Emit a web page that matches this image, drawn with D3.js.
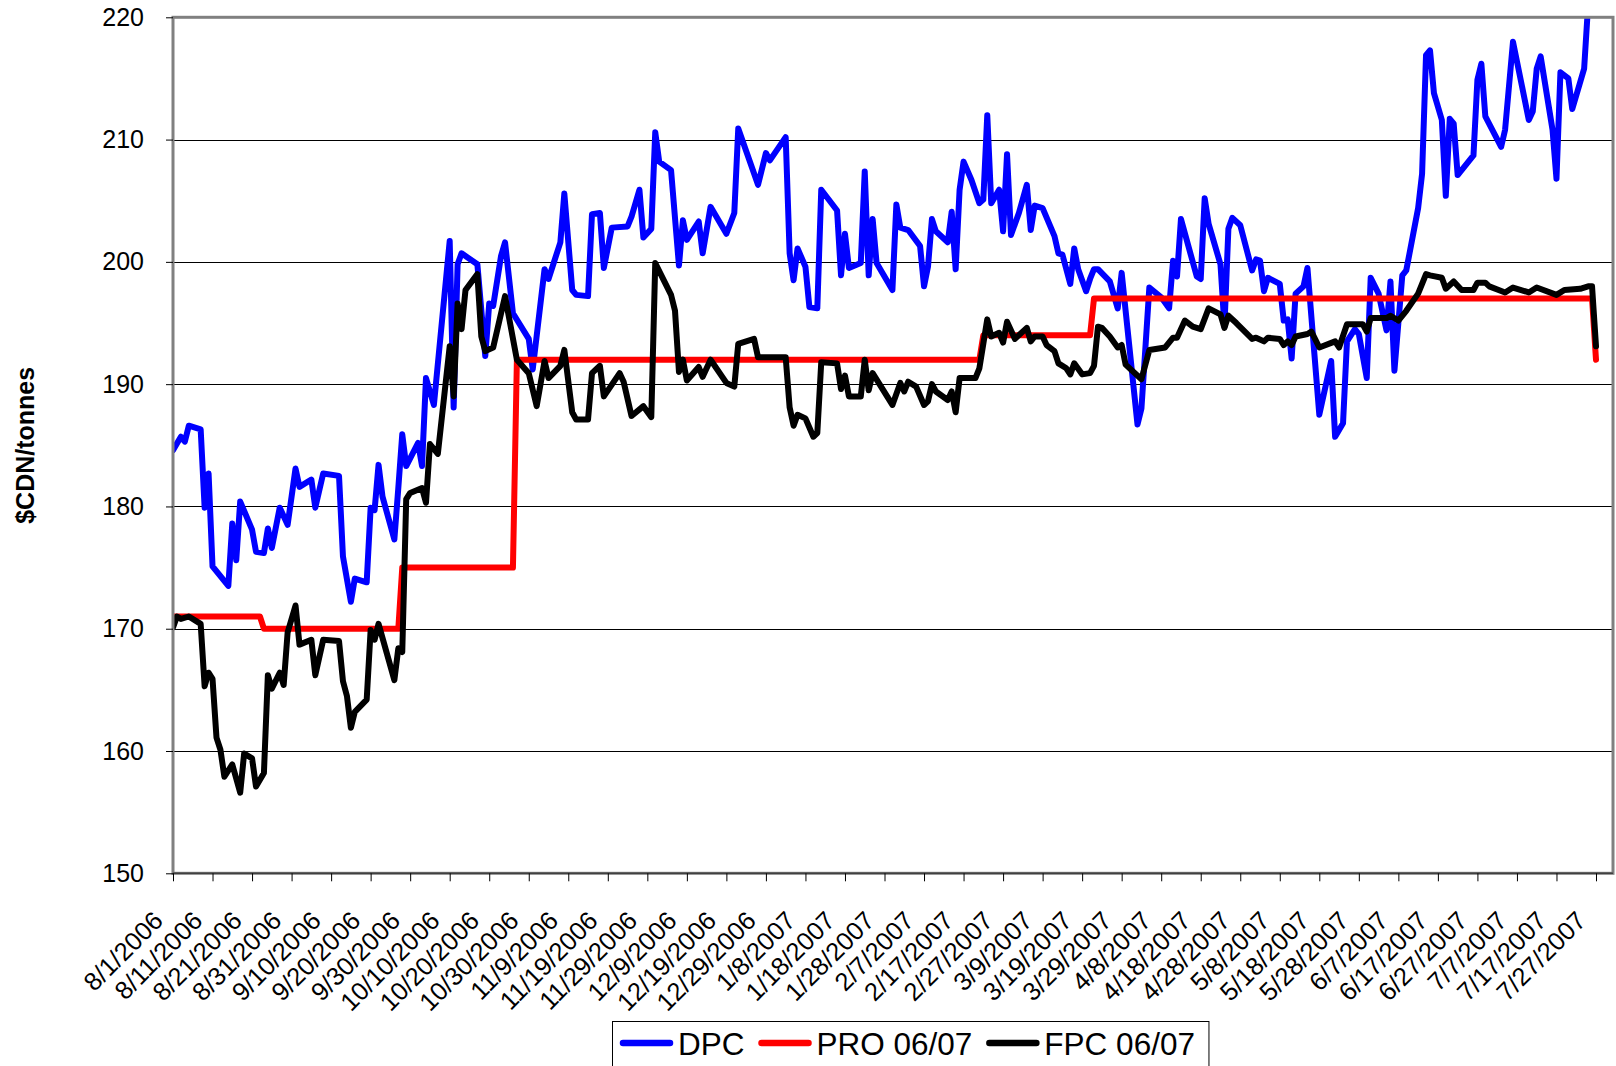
<!DOCTYPE html>
<html>
<head>
<meta charset="utf-8">
<script src="https://cdn.jsdelivr.net/npm/d3@7"></script>
<style>
  html, body { margin: 0; padding: 0; background: #fff; }
  svg { display: block; }
  text { font-family: "Liberation Sans", Arial, sans-serif; fill: #000; }
</style>
</head>
<body>
<script>
// ---------------- DATA ----------------
const xTickLabels = ["8/1/2006","8/11/2006","8/21/2006","8/31/2006","9/10/2006","9/20/2006","9/30/2006",
  "10/10/2006","10/20/2006","10/30/2006","11/9/2006","11/19/2006","11/29/2006","12/9/2006","12/19/2006",
  "12/29/2006","1/8/2007","1/18/2007","1/28/2007","2/7/2007","2/17/2007","2/27/2007","3/9/2007","3/19/2007",
  "3/29/2007","4/8/2007","4/18/2007","4/28/2007","5/8/2007","5/18/2007","5/28/2007","6/7/2007","6/17/2007",
  "6/27/2007","7/7/2007","7/17/2007","7/27/2007"];
const yTicks = [150, 160, 170, 180, 190, 200, 210, 220];
const seriesNames = ["DPC", "PRO 06/07", "FPC 06/07"];

const dpcDates = ["2006-08-01","2006-08-03","2006-08-04","2006-08-05","2006-08-08","2006-08-09","2006-08-10","2006-08-11",
  "2006-08-15","2006-08-16","2006-08-17","2006-08-18","2006-08-21","2006-08-22","2006-08-24","2006-08-25","2006-08-26",
  "2006-08-28","2006-08-30","2006-09-01","2006-09-02","2006-09-05","2006-09-06","2006-09-08","2006-09-12","2006-09-13",
  "2006-09-15","2006-09-16","2006-09-19","2006-09-20","2006-09-21","2006-09-22","2006-09-23","2006-09-26","2006-09-27",
  "2006-09-28","2006-09-29","2006-10-02","2006-10-03","2006-10-04","2006-10-06","2006-10-10","2006-10-11","2006-10-12",
  "2006-10-13","2006-10-17","2006-10-19","2006-10-20","2006-10-21","2006-10-23","2006-10-24","2006-10-26","2006-10-30",
  "2006-10-31","2006-11-03","2006-11-04","2006-11-07","2006-11-08","2006-11-10","2006-11-11","2006-11-14","2006-11-15",
  "2006-11-17","2006-11-18","2006-11-20","2006-11-24","2006-11-25","2006-11-27","2006-11-28","2006-11-30","2006-12-01",
  "2006-12-02","2006-12-05","2006-12-07","2006-12-08","2006-12-09","2006-12-12","2006-12-13","2006-12-15","2006-12-19",
  "2006-12-21","2006-12-22","2006-12-27","2006-12-29","2006-12-30","2007-01-03","2007-01-04","2007-01-05","2007-01-06",
  "2007-01-08","2007-01-09","2007-01-11","2007-01-12","2007-01-16","2007-01-17","2007-01-18","2007-01-19","2007-01-22",
  "2007-01-23","2007-01-24","2007-01-25","2007-01-26","2007-01-30","2007-01-31","2007-02-01","2007-02-03","2007-02-06",
  "2007-02-07","2007-02-08","2007-02-09","2007-02-10","2007-02-13","2007-02-14","2007-02-15","2007-02-16","2007-02-17",
  "2007-02-19","2007-02-21","2007-02-22","2007-02-23","2007-02-24","2007-02-26","2007-02-27","2007-02-28","2007-03-01",
  "2007-03-03","2007-03-05","2007-03-06","2007-03-07","2007-03-09","2007-03-12","2007-03-13","2007-03-14","2007-03-16",
  "2007-03-17","2007-03-18","2007-03-20","2007-03-21","2007-03-22","2007-03-23","2007-03-26","2007-03-28","2007-03-29",
  "2007-04-02","2007-04-03","2007-04-05","2007-04-08","2007-04-10","2007-04-11","2007-04-12","2007-04-13","2007-04-17",
  "2007-04-18","2007-04-19","2007-04-20","2007-04-23","2007-04-24","2007-04-25","2007-04-26","2007-04-28","2007-05-01",
  "2007-05-02","2007-05-03","2007-05-04","2007-05-05","2007-05-08","2007-05-09","2007-05-10","2007-05-11","2007-05-12",
  "2007-05-14","2007-05-15","2007-05-18","2007-05-21","2007-05-22","2007-05-24","2007-05-25","2007-05-27","2007-05-28",
  "2007-05-30","2007-05-31","2007-06-02","2007-06-04","2007-06-05","2007-06-06","2007-06-08","2007-06-09","2007-06-12",
  "2007-06-13","2007-06-14","2007-06-15","2007-06-16","2007-06-18","2007-06-19","2007-06-20","2007-06-21","2007-06-22",
  "2007-06-26","2007-06-27","2007-06-28","2007-06-29","2007-07-03","2007-07-04","2007-07-06","2007-07-10","2007-07-11",
  "2007-07-12","2007-07-13","2007-07-16","2007-07-17","2007-07-18","2007-07-20","2007-07-21","2007-07-24","2007-07-25",
  "2007-07-26"];
const dpcValues = [184.6,185.7,185.3,186.6,186.3,179.9,182.7,175.1,
  173.5,178.6,175.6,180.4,178.1,176.3,176.2,178.2,176.6,
  179.9,178.5,183.1,181.6,182.2,179.9,182.7,182.5,175.9,
  172.2,174.1,173.8,179.9,179.7,183.4,180.8,177.3,181.5,
  185.9,183.3,185.2,183.3,190.5,188.3,201.7,188.1,199.8,
  200.7,199.8,192.3,196.6,196.4,200.5,201.6,195.8,193.7,
  191.2,199.4,198.6,201.6,205.6,197.7,197.3,197.2,203.9,
  204.0,199.5,202.8,202.9,203.7,205.9,202.0,202.7,210.6,
  208.2,207.5,199.7,203.4,201.8,203.3,200.7,204.5,202.3,
  204.0,210.9,206.3,208.9,208.3,210.2,200.7,198.5,201.1,
  199.6,196.3,196.2,205.9,204.2,198.9,202.3,199.5,199.9,
  207.4,198.9,203.5,199.9,197.7,204.7,202.8,202.6,201.3,
  198.0,199.6,203.5,202.5,201.6,204.1,199.4,205.9,208.2,
  206.7,204.8,205.1,212.0,204.8,205.9,202.5,208.8,202.2,
  204.0,206.3,202.6,204.6,204.4,202.1,200.7,200.6,198.2,
  201.1,199.4,197.6,198.6,199.4,199.4,198.4,196.2,199.1,
  186.7,188.0,197.9,197.1,196.2,200.1,198.8,203.5,198.8,
  198.6,205.2,203.1,199.8,194.7,202.7,203.6,203.0,199.3,
  200.2,200.1,197.6,198.7,198.2,195.2,195.3,192.1,197.4,
  198.0,199.5,187.5,191.9,185.7,186.8,193.5,194.5,194.1,
  190.5,198.7,197.4,194.4,198.4,191.1,198.9,199.3,204.4,
  207.2,216.9,217.3,213.8,211.6,205.4,211.7,211.3,207.1,
  208.7,214.9,216.2,211.9,209.4,210.8,218.0,211.6,212.3,
  215.8,216.8,210.8,206.8,215.5,215.0,212.5,215.8,221.0,
  222.5];

const proDates = ["2006-08-01","2006-08-23","2006-08-24","2006-09-27","2006-09-28","2006-10-26","2006-10-27",
  "2007-02-21","2007-02-22","2007-03-21","2007-03-22","2007-07-26","2007-07-27"];
const proValues = [171, 171, 170, 170, 175, 175, 192, 192, 194, 194, 197, 197, 192];

const fpcDates = ["2006-08-01","2006-08-02","2006-08-03","2006-08-05","2006-08-08","2006-08-09","2006-08-10","2006-08-11",
  "2006-08-12","2006-08-13","2006-08-14","2006-08-16","2006-08-18","2006-08-19","2006-08-21","2006-08-22","2006-08-24",
  "2006-08-25","2006-08-26","2006-08-28","2006-08-29","2006-08-30","2006-09-01","2006-09-02","2006-09-05","2006-09-06",
  "2006-09-08","2006-09-12","2006-09-13","2006-09-14","2006-09-15","2006-09-16","2006-09-19","2006-09-20","2006-09-21",
  "2006-09-22","2006-09-26","2006-09-27","2006-09-28","2006-09-29","2006-09-30","2006-10-03","2006-10-04","2006-10-05",
  "2006-10-07","2006-10-10","2006-10-11","2006-10-12","2006-10-13","2006-10-14","2006-10-17","2006-10-18","2006-10-19",
  "2006-10-21","2006-10-24","2006-10-27","2006-10-30","2006-11-01","2006-11-03","2006-11-04","2006-11-07","2006-11-08",
  "2006-11-10","2006-11-11","2006-11-14","2006-11-15","2006-11-17","2006-11-18","2006-11-22","2006-11-23","2006-11-25",
  "2006-11-28","2006-11-30","2006-12-01","2006-12-05","2006-12-06","2006-12-07","2006-12-08","2006-12-09","2006-12-12",
  "2006-12-13","2006-12-15","2006-12-19","2006-12-21","2006-12-22","2006-12-26","2006-12-27","2007-01-03","2007-01-04",
  "2007-01-05","2007-01-06","2007-01-08","2007-01-10","2007-01-11","2007-01-12","2007-01-16","2007-01-17","2007-01-18",
  "2007-01-19","2007-01-22","2007-01-23","2007-01-24","2007-01-25","2007-01-30","2007-02-01","2007-02-02","2007-02-03",
  "2007-02-05","2007-02-07","2007-02-08","2007-02-09","2007-02-10","2007-02-13","2007-02-14","2007-02-15","2007-02-16",
  "2007-02-20","2007-02-21","2007-02-23","2007-02-24","2007-02-26","2007-02-27","2007-02-28","2007-03-02","2007-03-05",
  "2007-03-06","2007-03-07","2007-03-09","2007-03-10","2007-03-12","2007-03-13","2007-03-15","2007-03-16","2007-03-17",
  "2007-03-19","2007-03-21","2007-03-22","2007-03-23","2007-03-24","2007-03-26","2007-03-28","2007-03-29","2007-03-30",
  "2007-04-03","2007-04-05","2007-04-09","2007-04-11","2007-04-12","2007-04-14","2007-04-16","2007-04-18","2007-04-20",
  "2007-04-23","2007-04-24","2007-04-25","2007-04-27","2007-05-01","2007-05-02","2007-05-04","2007-05-05","2007-05-08",
  "2007-05-09","2007-05-10","2007-05-11","2007-05-12","2007-05-15","2007-05-16","2007-05-18","2007-05-22","2007-05-23",
  "2007-05-25","2007-05-29","2007-05-30","2007-05-31","2007-06-04","2007-06-05","2007-06-07","2007-06-09","2007-06-12",
  "2007-06-14","2007-06-15","2007-06-18","2007-06-19","2007-06-21","2007-06-23","2007-06-26","2007-06-27","2007-06-29",
  "2007-06-30","2007-07-04","2007-07-06","2007-07-10","2007-07-12","2007-07-17","2007-07-19","2007-07-23","2007-07-25",
  "2007-07-26","2007-07-27"];
const fpcValues = [170.1,171.0,170.8,171.0,170.4,165.3,166.4,165.9,
  161.1,160.1,157.9,158.9,156.6,159.8,159.4,157.1,158.2,
  166.2,165.1,166.4,165.4,169.7,171.9,168.7,169.1,166.2,
  169.1,169.0,165.7,164.5,161.9,163.2,164.2,169.9,169.1,
  170.4,165.8,168.4,168.1,180.6,181.1,181.5,180.3,185.1,
  184.3,193.1,189.0,196.6,194.5,197.7,199.0,193.9,192.7,
  193.0,197.2,192.0,190.9,188.2,191.9,190.5,191.5,192.8,
  187.7,187.1,187.1,190.9,191.5,189.0,190.9,190.2,187.4,
  188.2,187.3,199.9,197.3,196.0,191.0,192.0,190.3,191.4,
  190.6,192.0,190.1,189.8,193.3,193.7,192.2,192.2,188.1,
  186.6,187.5,187.2,185.7,186.0,191.8,191.7,189.6,190.7,
  189.0,189.0,192.0,189.5,190.9,188.3,190.1,189.4,190.2,
  189.8,188.3,188.6,190.0,189.4,188.7,189.4,187.7,190.5,
  190.5,191.3,195.3,193.9,194.2,193.4,195.1,193.7,194.6,
  193.5,193.9,193.9,193.2,192.7,191.7,191.3,190.8,191.7,
  190.8,190.9,191.5,194.7,194.6,193.9,193.0,193.2,191.6,
  190.4,192.8,193.0,193.8,193.8,195.2,194.7,194.5,196.2,
  195.7,194.6,195.6,195.0,193.7,193.8,193.5,193.8,193.7,
  193.2,193.5,193.2,193.9,194.1,194.3,193.0,193.5,193.0,
  194.9,194.9,194.3,195.4,195.4,195.6,195.2,196.0,197.4,
  199.0,198.9,198.7,197.8,198.4,197.7,197.7,198.3,198.3,
  198.0,197.5,197.9,197.5,197.9,197.3,197.7,197.8,198.0,
  198.0,193.1];

// ---------------- CHART ----------------
const W = 1616, H = 1066;
const plot = { left: 173, right: 1613, top: 17.3, bottom: 873.3 };

const parseDate = d3.utcParse("%Y-%m-%d");
const parseTick = d3.utcParse("%m/%d/%Y");
const xTickDates = xTickLabels.map(parseTick);

const x = d3.scaleUtc()
  .domain([xTickDates[0], xTickDates[xTickDates.length - 1]])
  .range([173, 1596]);
const y = d3.scaleLinear().domain([150, 220]).range([plot.bottom, plot.top]);

const svg = d3.select("body").append("svg").attr("width", W).attr("height", H);

svg.append("defs").append("clipPath").attr("id", "plotclip")
  .append("rect")
  .attr("x", plot.left).attr("y", plot.top)
  .attr("width", plot.right - plot.left).attr("height", plot.bottom - plot.top);

// gridlines
svg.append("g").selectAll("line")
  .data(yTicks.filter(v => v !== 150 && v !== 220))
  .join("line")
  .attr("x1", plot.left).attr("x2", plot.right)
  .attr("y1", d => Math.round(y(d)) + 0.5).attr("y2", d => Math.round(y(d)) + 0.5)
  .attr("stroke", "#000").attr("stroke-width", 1);

// series
const series = [
  { name: seriesNames[0], color: "#0000FF", dates: dpcDates, values: dpcValues },
  { name: seriesNames[1], color: "#FF0000", dates: proDates, values: proValues },
  { name: seriesNames[2], color: "#000000", dates: fpcDates, values: fpcValues }
];
const line = d3.line().x(d => x(d.date)).y(d => y(d.value));
const gLines = svg.append("g").attr("clip-path", "url(#plotclip)");
series.forEach(s => {
  const pts = s.dates.map((d, i) => ({ date: parseDate(d), value: s.values[i] }));
  gLines.append("path")
    .datum(pts)
    .attr("d", line)
    .attr("fill", "none")
    .attr("stroke", s.color)
    .attr("stroke-width", 6)
    .attr("stroke-linejoin", "round")
    .attr("stroke-linecap", "round");
});

// plot border
svg.append("rect")
  .attr("x", plot.left).attr("y", plot.top)
  .attr("width", plot.right - plot.left).attr("height", plot.bottom - plot.top)
  .attr("fill", "none").attr("stroke", "#808080").attr("stroke-width", 3);
svg.append("line")
  .attr("x1", plot.left).attr("x2", plot.right)
  .attr("y1", plot.bottom).attr("y2", plot.bottom)
  .attr("stroke", "#404040").attr("stroke-width", 1.5);

// y axis
const yAxis = svg.append("g")
  .attr("transform", `translate(${plot.left},0)`)
  .call(d3.axisLeft(y).tickValues(yTicks).tickSize(7).tickPadding(22).tickFormat(d3.format("d")));
yAxis.select(".domain").remove();
yAxis.selectAll(".tick line").attr("stroke", "#000");
yAxis.selectAll(".tick text")
  .style("font-family", '"Liberation Sans", Arial, sans-serif')
  .style("font-size", "25px").attr("fill", "#000");

// x axis
const xAxis = svg.append("g")
  .attr("transform", `translate(0,${plot.bottom})`)
  .call(d3.axisBottom(x).tickValues(xTickDates).tickSize(8).tickFormat((d, i) => xTickLabels[i]));
xAxis.select(".domain").remove();
xAxis.selectAll(".tick line").attr("stroke", "#000");
xAxis.selectAll(".tick text")
  .attr("x", 0).attr("y", 0).attr("dy", 0)
  .attr("text-anchor", "end")
  .attr("transform", "translate(-9,49) rotate(-45)")
  .style("font-family", '"Liberation Sans", Arial, sans-serif')
  .style("font-size", "25.5px").attr("fill", "#000");

// y title
svg.append("text")
  .attr("transform", `translate(34,${(plot.top + plot.bottom) / 2}) rotate(-90)`)
  .attr("text-anchor", "middle")
  .style("font-size", "25px").style("font-weight", "bold")
  .text("$CDN/tonnes");

// legend
const leg = svg.append("g");
const legBox = leg.append("rect")
  .attr("x", 612.5).attr("y", 1021.5).attr("height", 80)
  .attr("fill", "#fff").attr("stroke", "#000").attr("stroke-width", 1);
let cx = 620;
series.forEach(s => {
  leg.append("line")
    .attr("x1", cx + 3).attr("x2", cx + 50)
    .attr("y1", 1043).attr("y2", 1043)
    .attr("stroke", s.color).attr("stroke-width", 6.5).attr("stroke-linecap", "round");
  const t = leg.append("text")
    .attr("x", cx + 58).attr("y", 1055)
    .style("font-size", "31.5px")
    .text(s.name);
  cx = cx + 58 + t.node().getComputedTextLength() + 14;
});
legBox.attr("width", cx - 612.5);
</script>
</body>
</html>
